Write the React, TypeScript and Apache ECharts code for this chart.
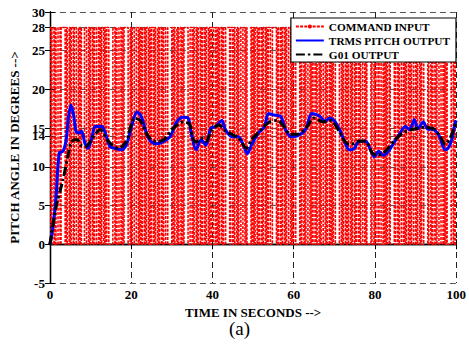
import React, { useEffect, useRef } from 'react';
import * as echarts from 'echarts';

// Command input: PRBS-like switching between two levels, one char per 0.25 s sample
const commandStep = 0.25;
const commandLevels = [0, 28];
const commandBits = [
  '10110100110111101001011011001010001100101101001101',
  '01101011000011010011010111100101100110101001011010',
  '11010010110100110000101001011010111100110100101101',
  '00101101011001010110100111101101001011001101000010',
  '10110100101101011001111010010110100110101100001011',
  '01001101011010010110010110101001111001011010110100',
  '10110100110100001001011011001010110111101101001101',
  '01101011001011010011110110100101100110101000011010',
];

const trmsOutput: number[][] = [
  [0, 0], [0.4, 1], [0.8, 2.5], [1.5, 6], [2.3, 11.8], [3.2, 12], [4.0, 13.5], [4.6, 16.5], [5.2, 18],
  [5.8, 16.8], [6.5, 14.5], [7.2, 14.4], [7.8, 14.6], [8.6, 13.1], [9.4, 12.4], [10.2, 13.5],
  [11.2, 15.2], [12.8, 15.2], [13.6, 14.4], [14.8, 12.6], [16.0, 12.4], [17.6, 12.2], [18.8, 12.8],
  [20.1, 15.2], [21.4, 17.1], [22.5, 16.5], [23.8, 14.3], [24.8, 13.3], [26.4, 13.0], [28.0, 13.3],
  [29.6, 13.9], [31.2, 15.8], [32.8, 16.4], [34.0, 16.3], [34.8, 14.3], [36.0, 12.2], [37.2, 13.5],
  [38.4, 12.8], [39.6, 15.0], [40.8, 15.2], [42.3, 16.0], [43.2, 14.8], [44.8, 13.9], [46.4, 13.9],
  [47.6, 12.8], [48.6, 11.7], [49.6, 12.8], [51.2, 14.3], [52.8, 15.2], [53.8, 16.9], [55.2, 16.7],
  [56.8, 16.5], [58.0, 14.8], [59.3, 13.9], [60.9, 14.0], [62.9, 14.8], [64.5, 16.9], [66.5, 16.5],
  [67.7, 15.9], [68.9, 16.3], [70.1, 15.9], [71.3, 14.8], [72.5, 13.3], [73.7, 12.2], [74.9, 12.4],
  [76.1, 13.3], [77.7, 13.3], [78.9, 12.2], [79.9, 11.3], [80.9, 12.0], [82.1, 11.5], [83.3, 12.0],
  [84.9, 13.3], [86.1, 14.3], [87.5, 15.2], [88.5, 14.8], [89.7, 16.1], [90.5, 14.9], [91.9, 15.8],
  [92.9, 14.9], [94.5, 14.8], [95.7, 14.1], [97.3, 12.2], [98.0, 12.4], [98.9, 13.5], [99.7, 15.6],
  [100, 16],
];

const g01Output: number[][] = [
  [0, 0], [1.6, 5.0], [3.2, 8.3], [4.4, 11.3], [5.2, 13.1], [6.0, 13.5], [6.8, 13.5], [7.6, 12.8],
  [8.8, 12.6], [10.4, 13.7], [12.4, 14.8], [14.4, 13.3], [16.8, 12.4], [18.8, 13.3], [20.8, 16.3],
  [22.2, 16.0], [24.0, 14.1], [25.8, 13.3], [28.0, 13.5], [30.4, 15.0], [32.8, 15.8], [34.4, 15.5],
  [35.2, 13.7], [36.0, 13.2], [37.2, 13.7], [38.4, 13.3], [39.9, 14.8], [41.6, 15.4], [43.2, 14.6],
  [44.8, 14.2], [46.4, 13.7], [48.4, 12.4], [49.6, 13.5], [52.0, 14.8], [54.0, 15.8], [56.0, 16.0],
  [57.6, 15.2], [59.2, 14.2], [60.9, 14.2], [63.3, 15.2], [64.9, 16.3], [67.3, 15.8], [68.9, 16.0],
  [69.7, 15.8], [71.3, 14.5], [72.9, 13.1], [74.1, 12.9], [76.1, 13.3], [77.7, 13.3], [79.3, 11.8],
  [80.5, 11.5], [82.5, 12.0], [84.9, 13.5], [87.3, 14.5], [89.7, 14.9], [92.1, 15.1], [94.5, 14.9],
  [96.1, 13.9], [97.3, 12.9], [98.5, 13.7], [99.7, 15.4], [100, 15.6],
];

const yTickValues = [-5, 0, 5, 10, 14, 15, 20, 25, 28, 30];
const seriesNames = ['COMMAND INPUT', 'TRMS PITCH OUTPUT', 'G01 OUTPUT'];

const FONT = 'Liberation Serif';

export default function App() {
  const ref = useRef<HTMLDivElement>(null);
  useEffect(() => {
    if (!ref.current) return;
    const chart = echarts.init(ref.current, undefined, { renderer: 'svg' });
    const bits = commandBits.join('');
    const commandData: number[][] = [];
    for (let i = 0; i < bits.length; i++) {
      commandData.push([i * commandStep, commandLevels[bits[i] === '1' ? 1 : 0]]);
    }
    commandData.push([bits.length * commandStep, commandLevels[bits[bits.length - 1] === '1' ? 1 : 0]]);

    const labelStyle = { fontFamily: FONT, fontWeight: 'bold' as const, fontSize: 13, color: '#000' };
    const axisLine = { show: true, lineStyle: { color: '#000', width: 1.3 } };
    chart.setOption({
      animation: false,
      backgroundColor: '#fff',
      grid: { left: 43.5, right: 10, top: 12, bottom: 62, containLabel: false },
      legend: {
        orient: 'vertical',
        right: 13,
        top: 18,
        data: [
          { name: seriesNames[0], itemStyle: { opacity: 1 } },
          { name: seriesNames[1], itemStyle: { opacity: 0 } },
          { name: seriesNames[2], itemStyle: { opacity: 0 } },
        ],
        itemWidth: 28,
        itemHeight: 5,
        itemGap: 3,
        padding: [3, 6, 2, 4],
        backgroundColor: '#fff',
        borderColor: '#000',
        borderWidth: 1.2,
        borderRadius: 0,
        textStyle: { fontFamily: FONT, fontWeight: 'bold', fontSize: 11.3, color: '#000' },
      },
      xAxis: [
        {
          type: 'value', min: 0, max: 100, interval: 20,
          name: 'TIME IN SECONDS -->', nameLocation: 'middle', nameGap: 17,
          nameTextStyle: { ...labelStyle, fontSize: 13 },
          axisLine, axisTick: { show: true, inside: true, length: 5, lineStyle: { color: '#000' } },
          axisLabel: { ...labelStyle, margin: 5 },
          splitLine: { show: true, lineStyle: { color: '#222', type: [6, 4], width: 1 } },
        },
        {
          type: 'value', min: 0, max: 100, interval: 20, position: 'top',
          axisLine, axisTick: { show: true, inside: true, length: 5, lineStyle: { color: '#000' } },
          axisLabel: { show: false }, splitLine: { show: false },
        },
      ],
      yAxis: [
        {
          type: 'value', min: -5, max: 30, interval: 5,
          name: 'PITCH ANGLE IN DEGREES -->', nameLocation: 'middle', nameGap: 27, nameRotate: 90,
          nameTextStyle: { ...labelStyle, fontSize: 13 },
          axisLine,
          axisTick: { show: true, inside: true, length: 5, customValues: yTickValues, lineStyle: { color: '#000' } },
          axisLabel: { ...labelStyle, margin: 5, customValues: yTickValues },
          splitLine: { show: true, lineStyle: { color: '#555', type: [6, 4], width: 1 } },
        },
        {
          type: 'value', min: -5, max: 30, interval: 5, position: 'right',
          axisLine, axisTick: { show: true, inside: true, length: 5, customValues: yTickValues, lineStyle: { color: '#000' } },
          axisLabel: { show: false }, splitLine: { show: false },
        },
      ],
      graphic: [
        {
          type: 'text', left: 229, top: 319,
          style: { text: '(a)', font: '19px Liberation Serif', fill: '#000' },
        },
      ],
      series: [
        {
          name: seriesNames[0], type: 'line', step: 'end', data: commandData,
          showSymbol: false, symbol: 'circle', symbolSize: 3,
          itemStyle: { color: '#ff0000' },
          lineStyle: { color: '#ff0000', width: 1.6, type: [3, 1.2] },
          silent: true,
        },
        {
          name: seriesNames[1], type: 'line', data: trmsOutput, smooth: 0.3,
          showSymbol: false, symbol: 'none',
          itemStyle: { color: '#0000ff' },
          lineStyle: { color: '#0000ff', width: 3 },
        },
        {
          name: seriesNames[2], type: 'line', data: g01Output, smooth: 0.3,
          showSymbol: false, symbol: 'none',
          itemStyle: { color: '#000' },
          lineStyle: { color: '#000', width: 3, type: [9, 3, 2.5, 3] },
        },
      ],
    });
    return () => chart.dispose();
  }, []);
  return <div ref={ref} style={{ position: 'fixed', left: 0, top: 0, width: 469, height: 345 }} />;
}
